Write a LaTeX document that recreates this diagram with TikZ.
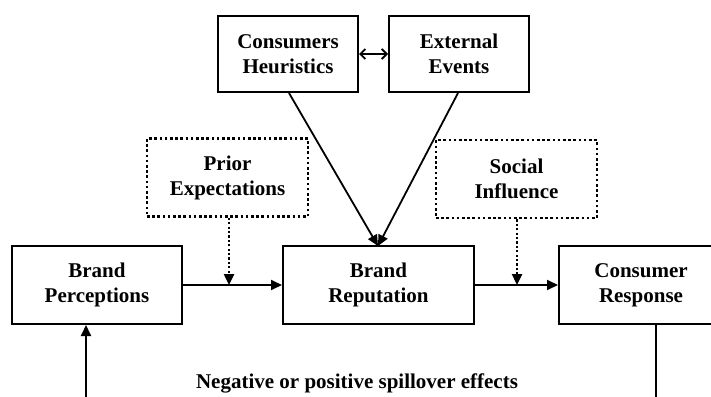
\documentclass[tikz,border=0pt]{standalone}
\usepackage{fontspec}
\setmainfont{Liberation Serif}
\usetikzlibrary{arrows.meta}
\begin{document}
\begin{tikzpicture}[x=1pt,y=-1pt,
  label text/.style={font=\fontsize{21}{25}\selectfont\bfseries, align=center},
  box/.style={draw, line width=2pt, label text, inner sep=0pt},
  dotbox/.style={box, line width=2.6pt, dash pattern=on 2.6pt off 2.6pt},
  link/.style={line width=1.8pt, -{Triangle[length=11pt,width=10pt]}},
  dotlink/.style={link, line width=2.4pt, dash pattern=on 2.2pt off 2.2pt},
  both/.style={line width=1.8pt, {Straight Barb[length=5pt,width=10pt]}-{Straight Barb[length=5pt,width=10pt]}}]
  \clip (0,0) rectangle (711,396);
  \fill[white] (0,0) rectangle (711,396);

  % upper influences
  \node[box, minimum width=140pt, minimum height=76pt] (ch) at (288,54) {Consumers\\Heuristics};
  \node[box, minimum width=140pt, minimum height=76pt] (ee) at (459,54) {External\\Events};

  % moderators
  \node[dotbox, minimum width=161pt, minimum height=78pt] (pe) at (227.5,177.5) {Prior\\Expectations};
  \node[dotbox, minimum width=161pt, minimum height=78pt] (si) at (516.5,179) {Social\\Influence};

  % main chain
  \node[box, minimum width=170pt, minimum height=78pt] (bp) at (97,285) {Brand\\Perceptions};
  \node[box, minimum width=191pt, minimum height=78pt] (br) at (378.5,285) {Brand\\Reputation};
  \node[box, minimum width=164pt, minimum height=78pt] (cr) at (641,285) {Consumer\\Response};

  \node[label text] (spill) at (357,383) {Negative or positive spillover effects};

  % connectors
  \draw[both] (ch.east) -- (ee.west);
  \coordinate (top) at (378,246);
  \draw[link] (ch.south -| 289,0) -- (top);
  \draw[link] (ee.south -| 458,0) -- (top);

  \draw[link] (bp.east) -- (br.west);
  \draw[link] (br.east) -- (cr.west);

  \coordinate (pehit) at (229,285);
  \coordinate (sihit) at (517,285);
  \draw[dotlink] (pe.south -| pehit) -- (pehit);
  \draw[dotlink] (si.south -| sihit) -- (sihit);

  % feedback loop leaving the frame
  \coordinate (loopin) at (86,400);
  \coordinate (loopout) at (656,400);
  \draw[link] (loopin) -- (bp.south -| loopin);
  \draw[line width=1.8pt] (cr.south -| loopout) -- (loopout);
\end{tikzpicture}
\end{document}
